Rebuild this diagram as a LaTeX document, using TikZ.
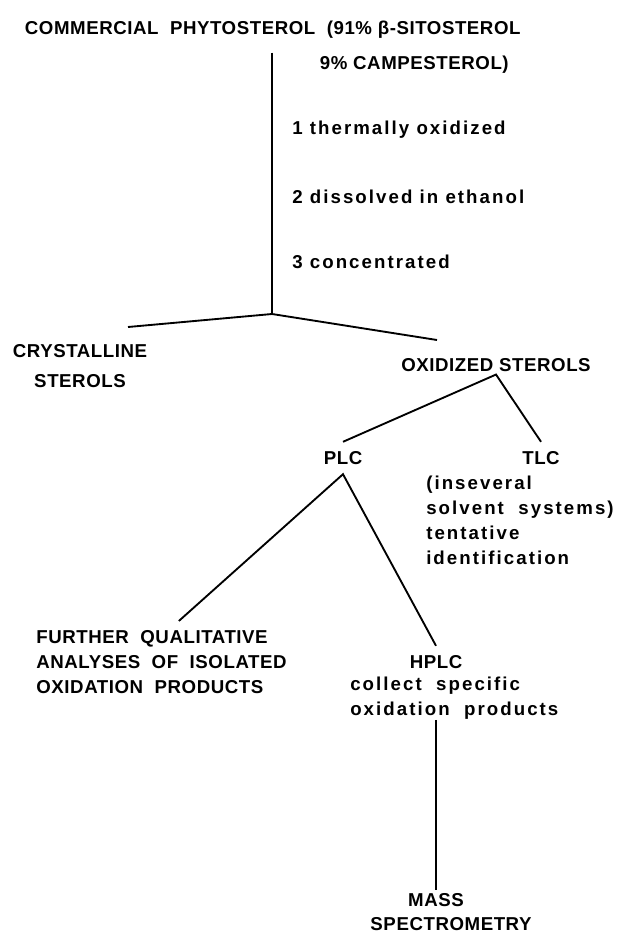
\documentclass[tikz,border=0pt]{standalone}
\usepackage{fontspec}
\setmainfont{Liberation Sans}
\newfontfamily\capfont{Liberation Sans}[LetterSpace=3]
\newfontfamily\notefont{Liberation Sans}[LetterSpace=11]
\usetikzlibrary{positioning}

\begin{document}
\begin{tikzpicture}[
        x=0.75pt, y=-0.75pt,
        caps/.style = {font=\capfont\bfseries\fontsize{14}{18.75}\selectfont, inner sep=2pt},
        tip/.style = {caps, inner sep=7pt},
        note/.style = {font=\notefont\bfseries\fontsize{14}{18.75}\selectfont,
                    align=left, inner sep=0pt},
        link/.style = {line width=1.4pt}
                    ]
        \useasboundingbox (0,0) rectangle (617,935);
        \node (title1) [caps, anchor=base west] at (22,34) {COMMERCIAL\ \ PHYTOSTEROL\ \ (91\% β-SITOSTEROL};
        \node (title2) [caps, anchor=base west] at (317,69) {9\% CAMPESTEROL)};
        \node (s1) [note, anchor=base west] at (292,134) {1 thermally oxidized};
        \node (s2) [note, anchor=base west] at (292,203) {2 dissolved in ethanol};
        \node (s3) [note, anchor=base west] at (292,268) {3 concentrated};
        \coordinate (jct) at (272,314);
        \coordinate (cryend) at (128,327);
        \coordinate (oxsend) at (437,340);
        \node (cry) [caps, align=center, anchor=north] at (80,342) {CRYSTALLINE\\[3.75pt]STEROLS};
        \node (oxs) [caps] at (496,365) {OXIDIZED STEROLS};
        \node (plc) [tip] at (343,458) {PLC};
        \node (tlc) [tip] at (541,458) {TLC};
        \node (tlcnote) [note, anchor=north west] at (426,476) {(inseveral\\solvent\ \ systems)\\tentative\\identification};
        \node (further) [tip, align=left, anchor=north] at (161.5,621) {FURTHER\ \ QUALITATIVE\\ANALYSES\ \ OF\ \ ISOLATED\\OXIDATION\ \ PRODUCTS};
        \node (hplc) [tip] at (436,662) {HPLC};
        \node (hplcnote) [note, anchor=north west] at (350,677) {collect\ \ specific\\oxidation\ \ products};
        \node (mass) [caps, anchor=base] at (436,906) {MASS};
        \node (spec) [caps, anchor=base] at (451,930) {SPECTROMETRY};
        %
        \draw[link] (jct |- title2.north) -- (jct);
        \draw[link] (cryend) -- (jct) -- (oxsend);
        \draw[link] (plc.north) -- (oxs.south) -- (tlc.north);
        \draw[link] ([xshift=13pt]further.north) -- (plc.south) -- (hplc.north);
        \draw[link] (hplcnote.south -| mass.north) -- (mass.north);
    \end{tikzpicture}
\end{document}
